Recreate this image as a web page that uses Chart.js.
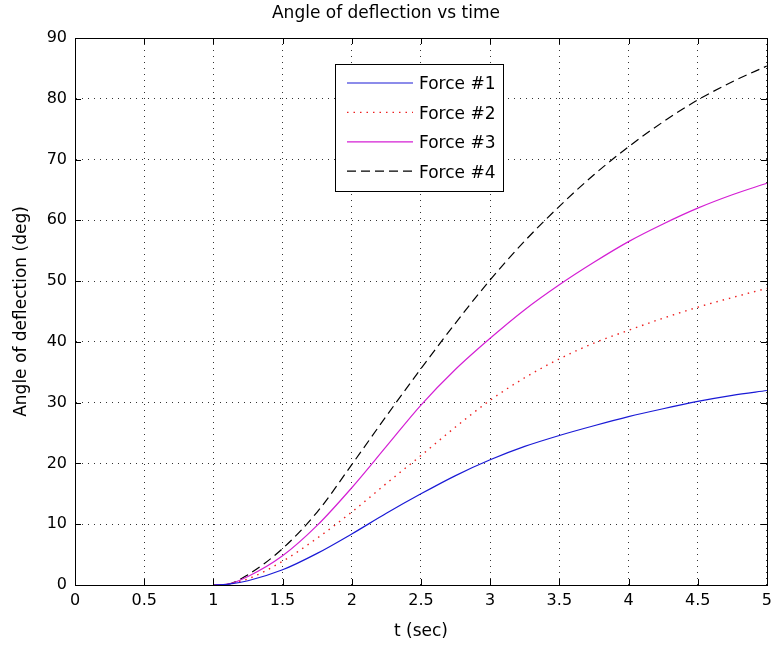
<!DOCTYPE html>
<html>
<head>
<meta charset="utf-8">
<script src="https://cdn.jsdelivr.net/npm/chart.js@4.4.1/dist/chart.umd.min.js"></script>
<style>
  body { margin: 0; background: #fff; }
  #myChart { display: block; }
</style>
</head>
<body>
<canvas id="myChart" width="778" height="645"></canvas>
<script>
// time samples (sec)
const timeValues = [1, 1.1, 1.25, 1.5, 1.75, 2, 2.25, 2.5, 2.75, 3, 3.25, 3.5, 3.75, 4, 4.25, 4.5, 4.75, 5];
// angle of deflection (deg)
const force1 = [0, 0.1, 0.7, 2.5, 5.2, 8.4, 11.8, 15.0, 18.0, 20.6, 22.8, 24.6, 26.2, 27.7, 29.0, 30.2, 31.2, 32.0];
const force2 = [0, 0.1, 1.0, 3.9, 7.7, 12.0, 16.7, 21.3, 26.0, 30.4, 34.1, 37.2, 39.8, 41.9, 43.9, 45.7, 47.3, 48.8];
const force3 = [0, 0.1, 1.4, 4.8, 9.8, 16.0, 22.8, 29.6, 35.5, 40.6, 45.3, 49.4, 53.1, 56.5, 59.4, 62.0, 64.2, 66.1];
const force4 = [0, 0.1, 1.7, 6.0, 12.0, 19.8, 27.8, 35.6, 43.1, 50.2, 56.6, 62.3, 67.5, 72.1, 76.2, 79.8, 82.8, 85.4];
const seriesNames = ['Force #1', 'Force #2', 'Force #3', 'Force #4'];
const xTickLabels = ['0', '0.5', '1', '1.5', '2', '2.5', '3', '3.5', '4', '4.5', '5'];
const yTickLabels = ['0', '10', '20', '30', '40', '50', '60', '70', '80', '90'];

const fontName = "'DejaVu Sans', sans-serif";

let toPoints = (vals) => vals.map((v, i) => ({ x: timeValues[i], y: v }));

// inward tick marks + box around the axes, like matlab
const axesBox = {
  id: 'axesBox',
  afterDraw(chart) {
    const ctx = chart.ctx;
    const a = chart.chartArea;
    const xs = chart.scales.x;
    const ys = chart.scales.y;
    ctx.save();
    ctx.strokeStyle = '#000';
    ctx.lineWidth = 1;
    ctx.setLineDash([]);
    ctx.beginPath();
    xs.ticks.forEach(t => {
      const px = Math.round(xs.getPixelForValue(t.value)) + 0.5;
      ctx.moveTo(px, a.bottom); ctx.lineTo(px, a.bottom - 6);
      ctx.moveTo(px, a.top); ctx.lineTo(px, a.top + 6);
    });
    ys.ticks.forEach(t => {
      const py = Math.round(ys.getPixelForValue(t.value)) + 0.5;
      ctx.moveTo(a.left, py); ctx.lineTo(a.left + 6, py);
      ctx.moveTo(a.right, py); ctx.lineTo(a.right - 6, py);
    });
    ctx.stroke();
    ctx.strokeRect(Math.round(a.left) + 0.5, Math.round(a.top) + 0.5,
      Math.round(a.right - a.left), Math.round(a.bottom - a.top));
    ctx.restore();
  }
};

// legend box in the middle of the axes
const boxLegend = {
  id: 'boxLegend',
  afterDraw(chart) {
    const ctx = chart.ctx;
    const bx = 335, by = 64, bw = 168, bh = 127;
    ctx.save();
    ctx.fillStyle = '#fff';
    ctx.fillRect(bx, by, bw, bh);
    ctx.strokeStyle = '#000';
    ctx.lineWidth = 1;
    ctx.setLineDash([]);
    ctx.strokeRect(bx + 0.5, by + 0.5, bw, bh);
    chart.data.datasets.forEach((ds, i) => {
      const ry = 83 + i * 29.4;
      ctx.strokeStyle = ds.borderColor;
      ctx.lineWidth = ds.borderWidth;
      ctx.setLineDash(ds.borderDash || []);
      ctx.beginPath();
      ctx.moveTo(347, ry);
      ctx.lineTo(413, ry);
      ctx.stroke();
      ctx.setLineDash([]);
      ctx.fillStyle = '#000';
      ctx.font = '17px ' + fontName;
      ctx.textBaseline = 'middle';
      ctx.fillText(ds.label, 419, ry + 2);
    });
    ctx.restore();
  }
};

const chartSelect = document.getElementById('myChart');

var myChart = new Chart(chartSelect, {
  type: 'line',
  data: {
    datasets: [{
      label: seriesNames[0],
      data: toPoints(force1),
      borderColor: '#1a1ad6',
      borderWidth: 1.2
    }, {
      label: seriesNames[1],
      data: toPoints(force2),
      borderColor: '#ee2020',
      borderWidth: 1.4,
      borderDash: [1.5, 5]
    }, {
      label: seriesNames[2],
      data: toPoints(force3),
      borderColor: '#d41fd4',
      borderWidth: 1.2
    }, {
      label: seriesNames[3],
      data: toPoints(force4),
      borderColor: '#000',
      borderWidth: 1.2,
      borderDash: [9, 5]
    }]
  },
  options: {
    responsive: false,
    animation: false,
    layout: { padding: { left: 0, right: 6, top: 0, bottom: 0 } },
    elements: {
      point: { radius: 0 },
      line: { cubicInterpolationMode: 'monotone' }
    },
    plugins: {
      legend: { display: false },
      tooltip: { enabled: false },
      title: {
        display: true,
        text: 'Angle of deflection vs time',
        color: '#000',
        font: { family: fontName, size: 17, weight: 'normal' },
        padding: { top: 3, bottom: 14.6 }
      }
    },
    scales: {
      x: {
        type: 'linear',
        min: 0,
        max: 5,
        ticks: {
          stepSize: 0.5,
          color: '#000',
          padding: 6,
          maxRotation: 0,
          font: { family: fontName, size: 16 },
          callback: (v, i) => xTickLabels[i]
        },
        grid: {
          color: '#333',
          lineWidth: 1,
          drawTicks: false
        },
        // border.dash = dotted grid lines in v4
        border: { display: true, color: '#000', dash: [1, 5] },
        title: {
          display: true,
          text: 't (sec)',
          color: '#000',
          font: { family: fontName, size: 17 },
          padding: { top: 0, bottom: 3 }
        },
        afterFit: (scale) => { scale.height = 60; }
      },
      y: {
        min: 0,
        max: 90,
        ticks: {
          stepSize: 10,
          color: '#000',
          padding: 8,
          font: { family: fontName, size: 16 },
          callback: (v, i) => yTickLabels[i]
        },
        grid: {
          color: '#333',
          lineWidth: 1,
          drawTicks: false
        },
        border: { display: true, color: '#000', dash: [1, 5] },
        title: {
          display: true,
          text: 'Angle of deflection (deg)',
          color: '#000',
          font: { family: fontName, size: 17 },
          padding: { top: 11, bottom: 0 }
        },
        afterFit: (scale) => { scale.width = 75; }
      }
    }
  },
  plugins: [axesBox, boxLegend]
});
</script>
</body>
</html>
